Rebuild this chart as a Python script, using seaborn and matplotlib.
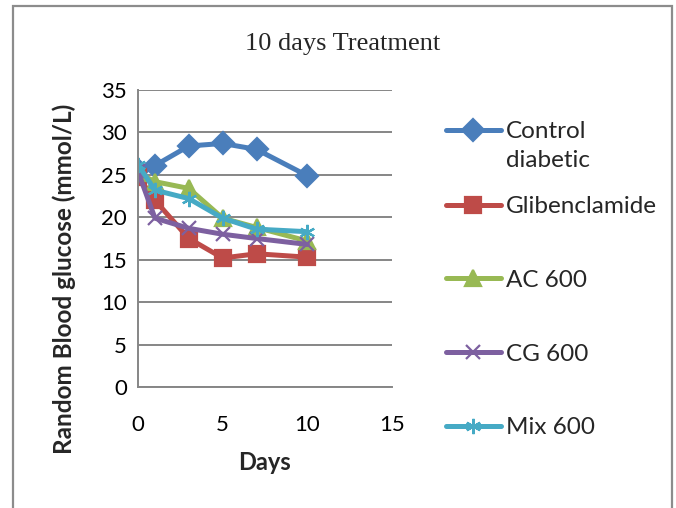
import matplotlib
matplotlib.use("Agg")
import matplotlib.pyplot as plt
from matplotlib.lines import Line2D
from matplotlib.patches import Rectangle
import numpy as np
import pandas as pd
import seaborn as sns

# Sampling days and mean random blood glucose (mmol/L) per group
days = [0, 1, 3, 5, 7, 10]
control_diabetic = [25.6, 26.1, 28.4, 28.7, 28.0, 24.9]
glibenclamide = [24.8, 22.0, 17.5, 15.2, 15.7, 15.3]
ac_600 = [25.2, 24.2, 23.4, 19.9, 18.8, 17.2]
cg_600 = [25.4, 19.9, 18.7, 18.0, 17.5, 16.8]
mix_600 = [26.2, 23.2, 22.2, 19.9, 18.6, 18.3]

groups = ["Control diabetic", "Glibenclamide", "AC 600", "CG 600", "Mix 600"]
legend_labels = ["Control\ndiabetic", "Glibenclamide", "AC 600", "CG 600", "Mix 600"]
colors = ["#4a7ebb", "#be4b48", "#98b954", "#7d60a0", "#46aac5"]
markers = ["D", "s", "^", "x", (6, 2, 0)]
msizes = [11, 11, 11, 10, 11]

df = pd.DataFrame({
    "Days": days * 5,
    "Glucose": control_diabetic + glibenclamide + ac_600 + cg_600 + mix_600,
    "Group": np.repeat(groups, len(days)),
})

sns.set_theme(style="white")
plt.rcParams["font.family"] = ["Lato", "DejaVu Sans"]

W, H = 676, 508
fig = plt.figure(figsize=(W / 100, H / 100), dpi=100)
ax = fig.add_axes([138 / W, 1 - 387 / H, (392 - 138) / W, (387 - 90) / H])

for g, c, m, ms in zip(groups, colors, markers, msizes):
    sns.lineplot(
        data=df[df["Group"] == g], x="Days", y="Glucose", color=c, marker=m,
        markersize=ms, markeredgecolor=c, markerfacecolor=c, markeredgewidth=1.6,
        linewidth=3.6, solid_joinstyle="round", ax=ax, legend=False, sort=False,
    )

ax.set_xlim(0, 15)
ax.set_ylim(0, 35)
ax.set_xticks([0, 5, 10, 15])
ax.set_yticks(range(0, 36, 5))
ax.grid(axis="y", color="#868686", linewidth=1.4)
ax.grid(axis="x", visible=False)
ax.set_axisbelow(True)
for side in ["top", "right"]:
    ax.spines[side].set_visible(False)
for side in ["left", "bottom"]:
    ax.spines[side].set_color("#868686")
    ax.spines[side].set_linewidth(1.4)
ax.tick_params(axis="both", length=0, labelsize=16, colors="black")
ax.tick_params(axis="x", pad=20)
ax.tick_params(axis="y", pad=8)

ax.set_xlabel("Days", fontsize=17, fontweight="bold")
ax.xaxis.set_label_coords(0.5, (387 - 451) / 297)
ax.set_ylabel("Random Blood glucose (mmol/L)", fontsize=17.5, fontweight="bold")
ax.yaxis.set_label_coords((76 - 138) / 254, (387 - 279) / 297)

fig.text(343 / W, 1 - 44 / H, "10 days Treatment", ha="center", va="center",
         fontsize=19, family=["Liberation Serif", "DejaVu Serif"])

handles = [
    Line2D([], [], color=c, marker=m, markersize=ms, markeredgecolor=c,
           markeredgewidth=1.6, linewidth=3.6)
    for c, m, ms in zip(colors, markers, msizes)
]
leg_fs = 17.5
leg_kw = dict(frameon=False, fontsize=leg_fs, handlelength=2.25, handletextpad=0.2,
              borderaxespad=0, borderpad=0, loc="upper left")

# The wrapped first entry sits in its own legend so its handle lines up with "Control"
leg_top = fig.legend(handles[:1], legend_labels[:1],
                     bbox_to_anchor=(446 / W, 1 - 121 / H), **leg_kw)
leg_top._legend_handle_box.get_children()[0].get_children()[0].align = "top"
leg_top.get_texts()[0].set_linespacing(1.45)
leg_rest = fig.legend(handles[1:], legend_labels[1:], labelspacing=2.17,
                      bbox_to_anchor=(446 / W, 1 - 196 / H), **leg_kw)

# Chart border (open at the bottom edge)
fig.patches.append(Rectangle((13 / W, -0.05), (672 - 13) / W, 1.05 - 6 / H,
                             transform=fig.transFigure, fill=False,
                             edgecolor="#8c8c8c", linewidth=1.6))

fig.savefig("out.png", dpi=100, facecolor="white")
